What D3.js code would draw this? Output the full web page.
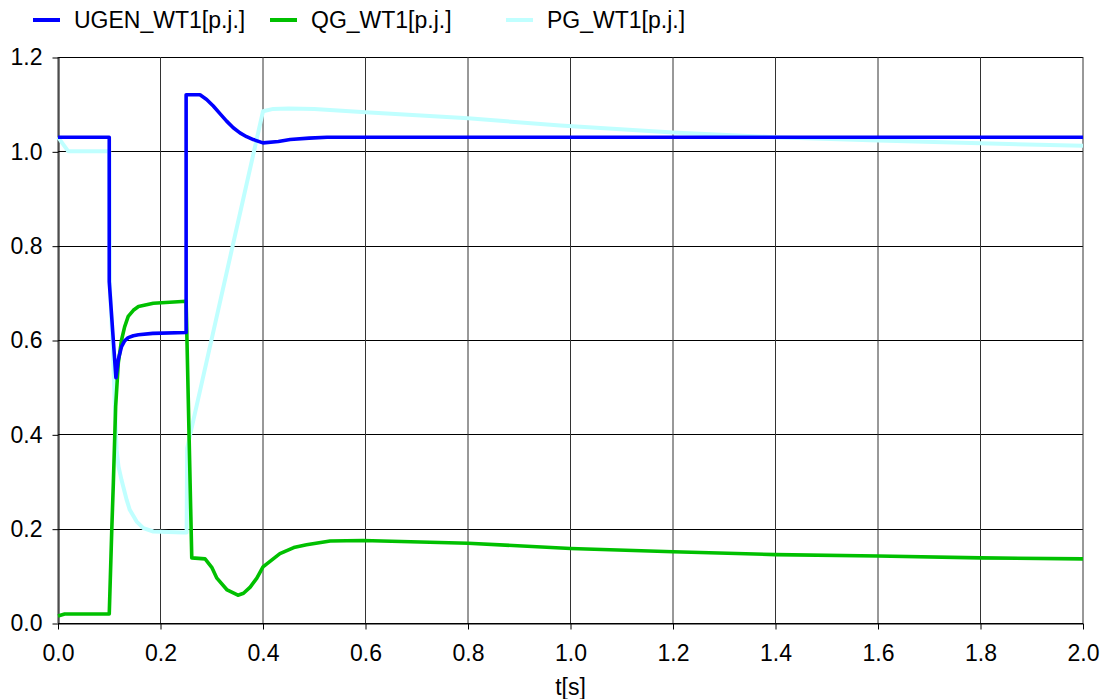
<!DOCTYPE html>
<html>
<head>
<meta charset="utf-8">
<script src="https://cdn.jsdelivr.net/npm/d3@7"></script>
<style>
  html, body { margin: 0; padding: 0; background: #fff; }
  svg { display: block; font-family: "Liberation Sans", Arial, sans-serif; }
</style>
</head>
<body>
<svg id="chart" width="1108" height="699"></svg>
<script>
// Generator voltage, reactive and active power of wind turbine WT1 (per unit)
const seriesNames = ["UGEN_WT1[p.j.]", "QG_WT1[p.j.]", "PG_WT1[p.j.]"];
const seriesColors = ["#0000ff", "#00c000", "#c0ffff"];

const xTicks = [0, 0.2, 0.4, 0.6, 0.8, 1.0, 1.2, 1.4, 1.6, 1.8, 2.0];
const yTicks = [0, 0.2, 0.4, 0.6, 0.8, 1.0, 1.2];
const xLabel = "t[s]";

// UGEN_WT1
const tU = [0, 0.1, 0.1, 0.113, 0.118, 0.124, 0.13, 0.137, 0.147, 0.157, 0.185, 0.25,
            0.25, 0.277, 0.29, 0.303, 0.316, 0.329, 0.342, 0.355, 0.368, 0.381, 0.4,
            0.43, 0.453, 0.49, 0.525, 0.8, 1.2, 1.6, 2.0];
const uGen = [1.03, 1.03, 0.724, 0.52, 0.56, 0.586, 0.598, 0.605, 0.609, 0.611, 0.614, 0.616,
              1.12, 1.12, 1.11, 1.096, 1.08, 1.064, 1.05, 1.039, 1.031, 1.025, 1.018,
              1.021, 1.025, 1.028, 1.03, 1.03, 1.03, 1.03, 1.03];

// QG_WT1
const tQ = [0, 0.013, 0.1, 0.105, 0.108, 0.1125, 0.1177, 0.124, 0.13, 0.137, 0.147, 0.157,
            0.186, 0.25, 0.256, 0.261, 0.287, 0.3, 0.31, 0.33, 0.351, 0.362, 0.375,
            0.388, 0.4, 0.433, 0.46, 0.485, 0.531, 0.595, 0.8, 1.0, 1.2, 1.4, 1.6, 1.8, 2.0];
const qG = [0.015, 0.019, 0.019, 0.2, 0.297, 0.459, 0.552, 0.6, 0.628, 0.65, 0.663, 0.671,
            0.678, 0.682, 0.385, 0.138, 0.136, 0.118, 0.095, 0.07, 0.059, 0.063, 0.076,
            0.095, 0.119, 0.147, 0.16, 0.166, 0.174, 0.175, 0.169, 0.158, 0.151, 0.145,
            0.142, 0.138, 0.136];

// PG_WT1
const tP = [0, 0.02, 0.1, 0.101, 0.107, 0.111, 0.1144, 0.118, 0.124, 0.134, 0.14, 0.1535,
            0.1665, 0.186, 0.2445, 0.251, 0.252, 0.26, 0.4, 0.42, 0.45, 0.5, 0.6, 0.8,
            0.98, 1.2, 1.4, 1.6, 1.8, 2.0];
const pG = [1.03, 1.0, 1.0, 0.72, 0.58, 0.46, 0.367, 0.332, 0.303, 0.261, 0.24, 0.215,
            0.201, 0.194, 0.192, 0.192, 0.37, 0.41, 1.085, 1.09, 1.091, 1.09, 1.083, 1.07,
            1.055, 1.04, 1.03, 1.023, 1.017, 1.012];

const svg = d3.select("#chart");
const plotLeft = 58, plotRight = 1083, plotTop = 57, plotBottom = 623;

const x = d3.scaleLinear().domain([0, 2]).range([plotLeft, plotRight]);
const y = d3.scaleLinear().domain([0, 1.2]).range([plotBottom, plotTop]);
const fmt = d3.format(".1f");

// grid
const grid = svg.append("g").attr("stroke", "#000").attr("stroke-width", 1);
grid.selectAll("line.h").data(yTicks).join("line")
  .attr("class", "h")
  .attr("x1", plotLeft).attr("x2", plotRight)
  .attr("y1", d => Math.round(y(d)) + 0.5).attr("y2", d => Math.round(y(d)) + 0.5);
grid.selectAll("line.v").data(xTicks).join("line")
  .attr("class", "v")
  .attr("stroke", "#333")
  .attr("y1", plotTop).attr("y2", plotBottom)
  .attr("x1", d => x(d)).attr("x2", d => x(d));

// axes
const yAxis = svg.append("g")
  .attr("transform", `translate(${plotLeft + 0.5},0.5)`)
  .call(d3.axisLeft(y).tickValues(yTicks).tickFormat(fmt).tickSize(6).tickSizeOuter(0).tickPadding(10));
const xAxis = svg.append("g")
  .attr("transform", `translate(0,${plotBottom + 0.5})`)
  .call(d3.axisBottom(x).tickValues(xTicks).tickFormat(fmt).tickSize(6).tickSizeOuter(0).tickPadding(15));
[yAxis, xAxis].forEach(a => {
  a.selectAll("text").attr("font-size", 23).attr("fill", "#000")
    .attr("font-family", "'Liberation Sans', Arial, sans-serif");
  a.selectAll("line, path").attr("stroke", "#000");
});

svg.append("text")
  .attr("x", (plotLeft + plotRight) / 2).attr("y", 695)
  .attr("text-anchor", "middle").attr("font-size", 23)
  .text(xLabel);

// series, drawn so the voltage trace sits on top
const series = [
  { t: tU, v: uGen },
  { t: tQ, v: qG },
  { t: tP, v: pG }
];
const line = d3.line().x(d => x(d[0])).y(d => y(d[1]));
[2, 1, 0].forEach(i => {
  const pts = series[i].t.map((t, k) => [t, series[i].v[k]]);
  svg.append("path")
    .datum(pts)
    .attr("fill", "none")
    .attr("stroke", seriesColors[i])
    .attr("stroke-width", i === 2 ? 4 : 3.6)
    .attr("stroke-linejoin", "round")
    .attr("d", line);
});

// legend
const legendX = [33, 270, 506];
const leg = svg.append("g");
seriesNames.forEach((name, i) => {
  leg.append("line")
    .attr("x1", legendX[i]).attr("x2", legendX[i] + 27)
    .attr("y1", 20).attr("y2", 20)
    .attr("stroke", seriesColors[i]).attr("stroke-width", 4);
  leg.append("text")
    .attr("x", legendX[i] + 41).attr("y", 28)
    .attr("font-size", 23).attr("fill", "#000")
    .text(name);
});
</script>
</body>
</html>
